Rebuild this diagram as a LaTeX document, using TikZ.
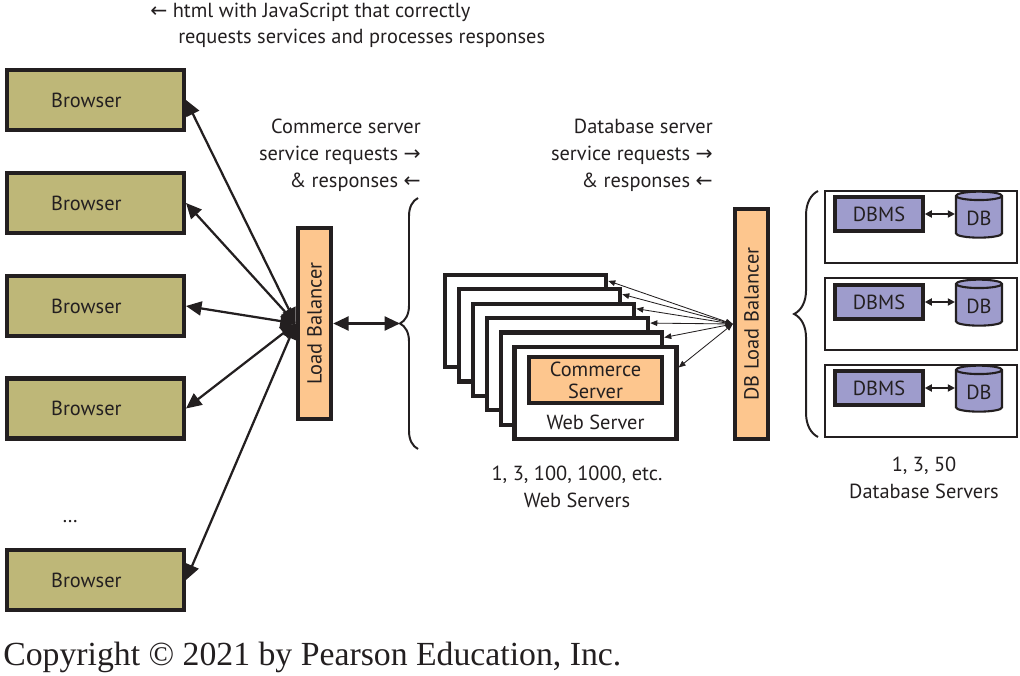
\documentclass[tikz,border=0pt]{standalone}
\usepackage{fontspec}
\setmainfont{PT Sans}
\newfontfamily\arw{DejaVu Sans}
\newfontfamily\copyfont{Liberation Serif}
\usetikzlibrary{arrows.meta,shapes.geometric,decorations.pathreplacing,calc}
\definecolor{browserfill}{RGB}{190,183,120}
\definecolor{lbfill}{RGB}{253,198,142}
\definecolor{dbfill}{RGB}{158,156,204}
\definecolor{edge}{RGB}{35,31,32}
\tikzset{
  browserbox/.style={draw=edge,fill=browserfill,line width=3pt,minimum width=4.42cm,minimum height=1.5cm},
  lbbox/.style={draw=edge,fill=lbfill,line width=3pt,rotate=90,minimum height=0.83cm},
  wsframe/.style={draw=edge,fill=white,line width=3pt,minimum width=4.03cm,minimum height=2.3cm},
  dbhost/.style={draw=edge,line width=0.8pt,minimum width=4.8cm,minimum height=1.8cm},
  dbmsbox/.style={draw=edge,fill=dbfill,line width=2.5pt,minimum width=2.2cm,minimum height=0.85cm},
  dbcyl/.style={cylinder,shape border rotate=90,aspect=0.3,draw=edge,fill=dbfill,line width=1.5pt,minimum width=1.15cm,minimum height=1.15cm,inner sep=1pt},
  bigarrow/.style={{Triangle[length=11pt,width=10pt]}-{Triangle[length=11pt,width=10pt]},line width=1.6pt,draw=edge},
  thinarrow/.style={{Triangle[length=5pt,width=4pt]}-{Triangle[length=5pt,width=4pt]},line width=0.6pt,draw=edge},
  linkarrow/.style={{Triangle[length=5pt,width=5pt]}-{Triangle[length=5pt,width=5pt]},line width=1.3pt,draw=edge},
  bracket/.style={decorate,decoration={brace,amplitude=#1},line width=1.4pt,draw=edge},
  label/.style={inner sep=0pt,align=right}
}
\newcommand{\brw}{Browser\kern13pt}
\begin{document}
\begin{tikzpicture}[x=0.025cm,y=-0.025cm,every node/.style={font=\fontsize{14.5}{19.2}\selectfont,text=edge}]
\useasboundingbox (0,0) rectangle (1020,676);
\node[anchor=west,inner sep=0pt] (note1) at (150,12) {{\arw ←} html with JavaScript that correctly};
\node[anchor=west,inner sep=0pt] (note2) at (178,38) {requests services and processes responses};
\node[browserbox] (b1) at (95.5,100) {\brw};
\node[browserbox] (b2) at (95.5,203) {\brw};
\node[browserbox] (b3) at (95.5,306) {\brw};
\node[browserbox] (b4) at (95.5,408.5) {\brw};
\node (dots) at (70,522) {\ldots};
\node[browserbox] (b5) at (95.5,580) {\brw};
\node[lbbox,minimum width=4.78cm] (lb) at (314.5,323.5) {Load Balancer};
\node[label,anchor=east] (clabel) at (421,155) {Commerce server\\service requests {\arw →}\\\& responses {\arw ←}};
\draw[bigarrow] (lb.north) -- (b1.east);
\draw[bigarrow] (lb.north) -- (b2.east);
\draw[bigarrow] (lb.north) -- (b3.east);
\draw[bigarrow] (lb.north) -- (b4.east);
\draw[bigarrow] (lb.north) -- (b5.east);
\coordinate (ctip) at (400,323.5);
\draw[bracket=12.8pt] (418,449) -- (418,198);
\draw[bigarrow] (lb.south) -- (ctip);
\node[wsframe] (ws0) at (525.5,321) {};
\node[wsframe] (ws1) at (539.5,335.4) {};
\node[wsframe] (ws2) at (553.5,349.8) {};
\node[wsframe] (ws3) at (567.5,364.2) {};
\node[wsframe] (ws4) at (581.5,378.6) {};
\node[wsframe,line width=3.5pt] (ws5) at (595.5,393) {};
\node[draw=edge,fill=lbfill,line width=3pt,minimum width=3.33cm,minimum height=1.15cm,align=center,font=\fontsize{14.5}{15.6}\selectfont] (csrv) at (595.5,380) {Commerce\\Server};
\node (wslabel) at (595.5,422) {Web Server};
\node[align=center] (wscount) at (577,487) {1, 3, 100, 1000, etc.\\Web Servers};
\node[lbbox,minimum width=5.75cm] (dblb) at (751.5,324) {DB Load Balancer};
\node[label,anchor=east] (dlabel) at (713,155) {Database server\\service requests {\arw →}\\\& responses {\arw ←}};
\draw[thinarrow] (dblb.north) -- ($(ws0.north east)+(0,8)$);
\draw[thinarrow] (dblb.north) -- ($(ws1.north east)+(0,7)$);
\draw[thinarrow] (dblb.north) -- ($(ws2.north east)+(0,7)$);
\draw[thinarrow] (dblb.north) -- ($(ws3.north east)+(0,7)$);
\draw[thinarrow] (dblb.north) -- ($(ws4.north east)+(0,7)$);
\draw[thinarrow] (dblb.north) -- ($(ws5.north east)+(0,23)$);
\draw[bracket=17pt] (818,437) -- (818,191);
\node[dbhost] (h1) at (921,227) {};
\node[dbmsbox] (m1) at (879,214) {DBMS};
\node[dbcyl] (d1) at (979,218) {DB};
\draw[linkarrow] (m1.east) -- (m1.east -| d1.west);
\node[dbhost] (h2) at (921,314) {};
\node[dbmsbox] (m2) at (879,302) {DBMS};
\node[dbcyl] (d2) at (979,306) {DB};
\draw[linkarrow] (m2.east) -- (m2.east -| d2.west);
\node[dbhost] (h3) at (921,401) {};
\node[dbmsbox] (m3) at (879,388) {DBMS};
\node[dbcyl] (d3) at (979,392) {DB};
\draw[linkarrow] (m3.east) -- (m3.east -| d3.west);
\node[align=center] (dbcount) at (924,478) {1, 3, 50\\Database Servers};
\node[anchor=west,inner sep=0pt,font=\copyfont\fontsize{24}{27}\selectfont] (copy) at (3,657) {Copyright © 2021 by Pearson Education, Inc.};
\end{tikzpicture}
\end{document}
